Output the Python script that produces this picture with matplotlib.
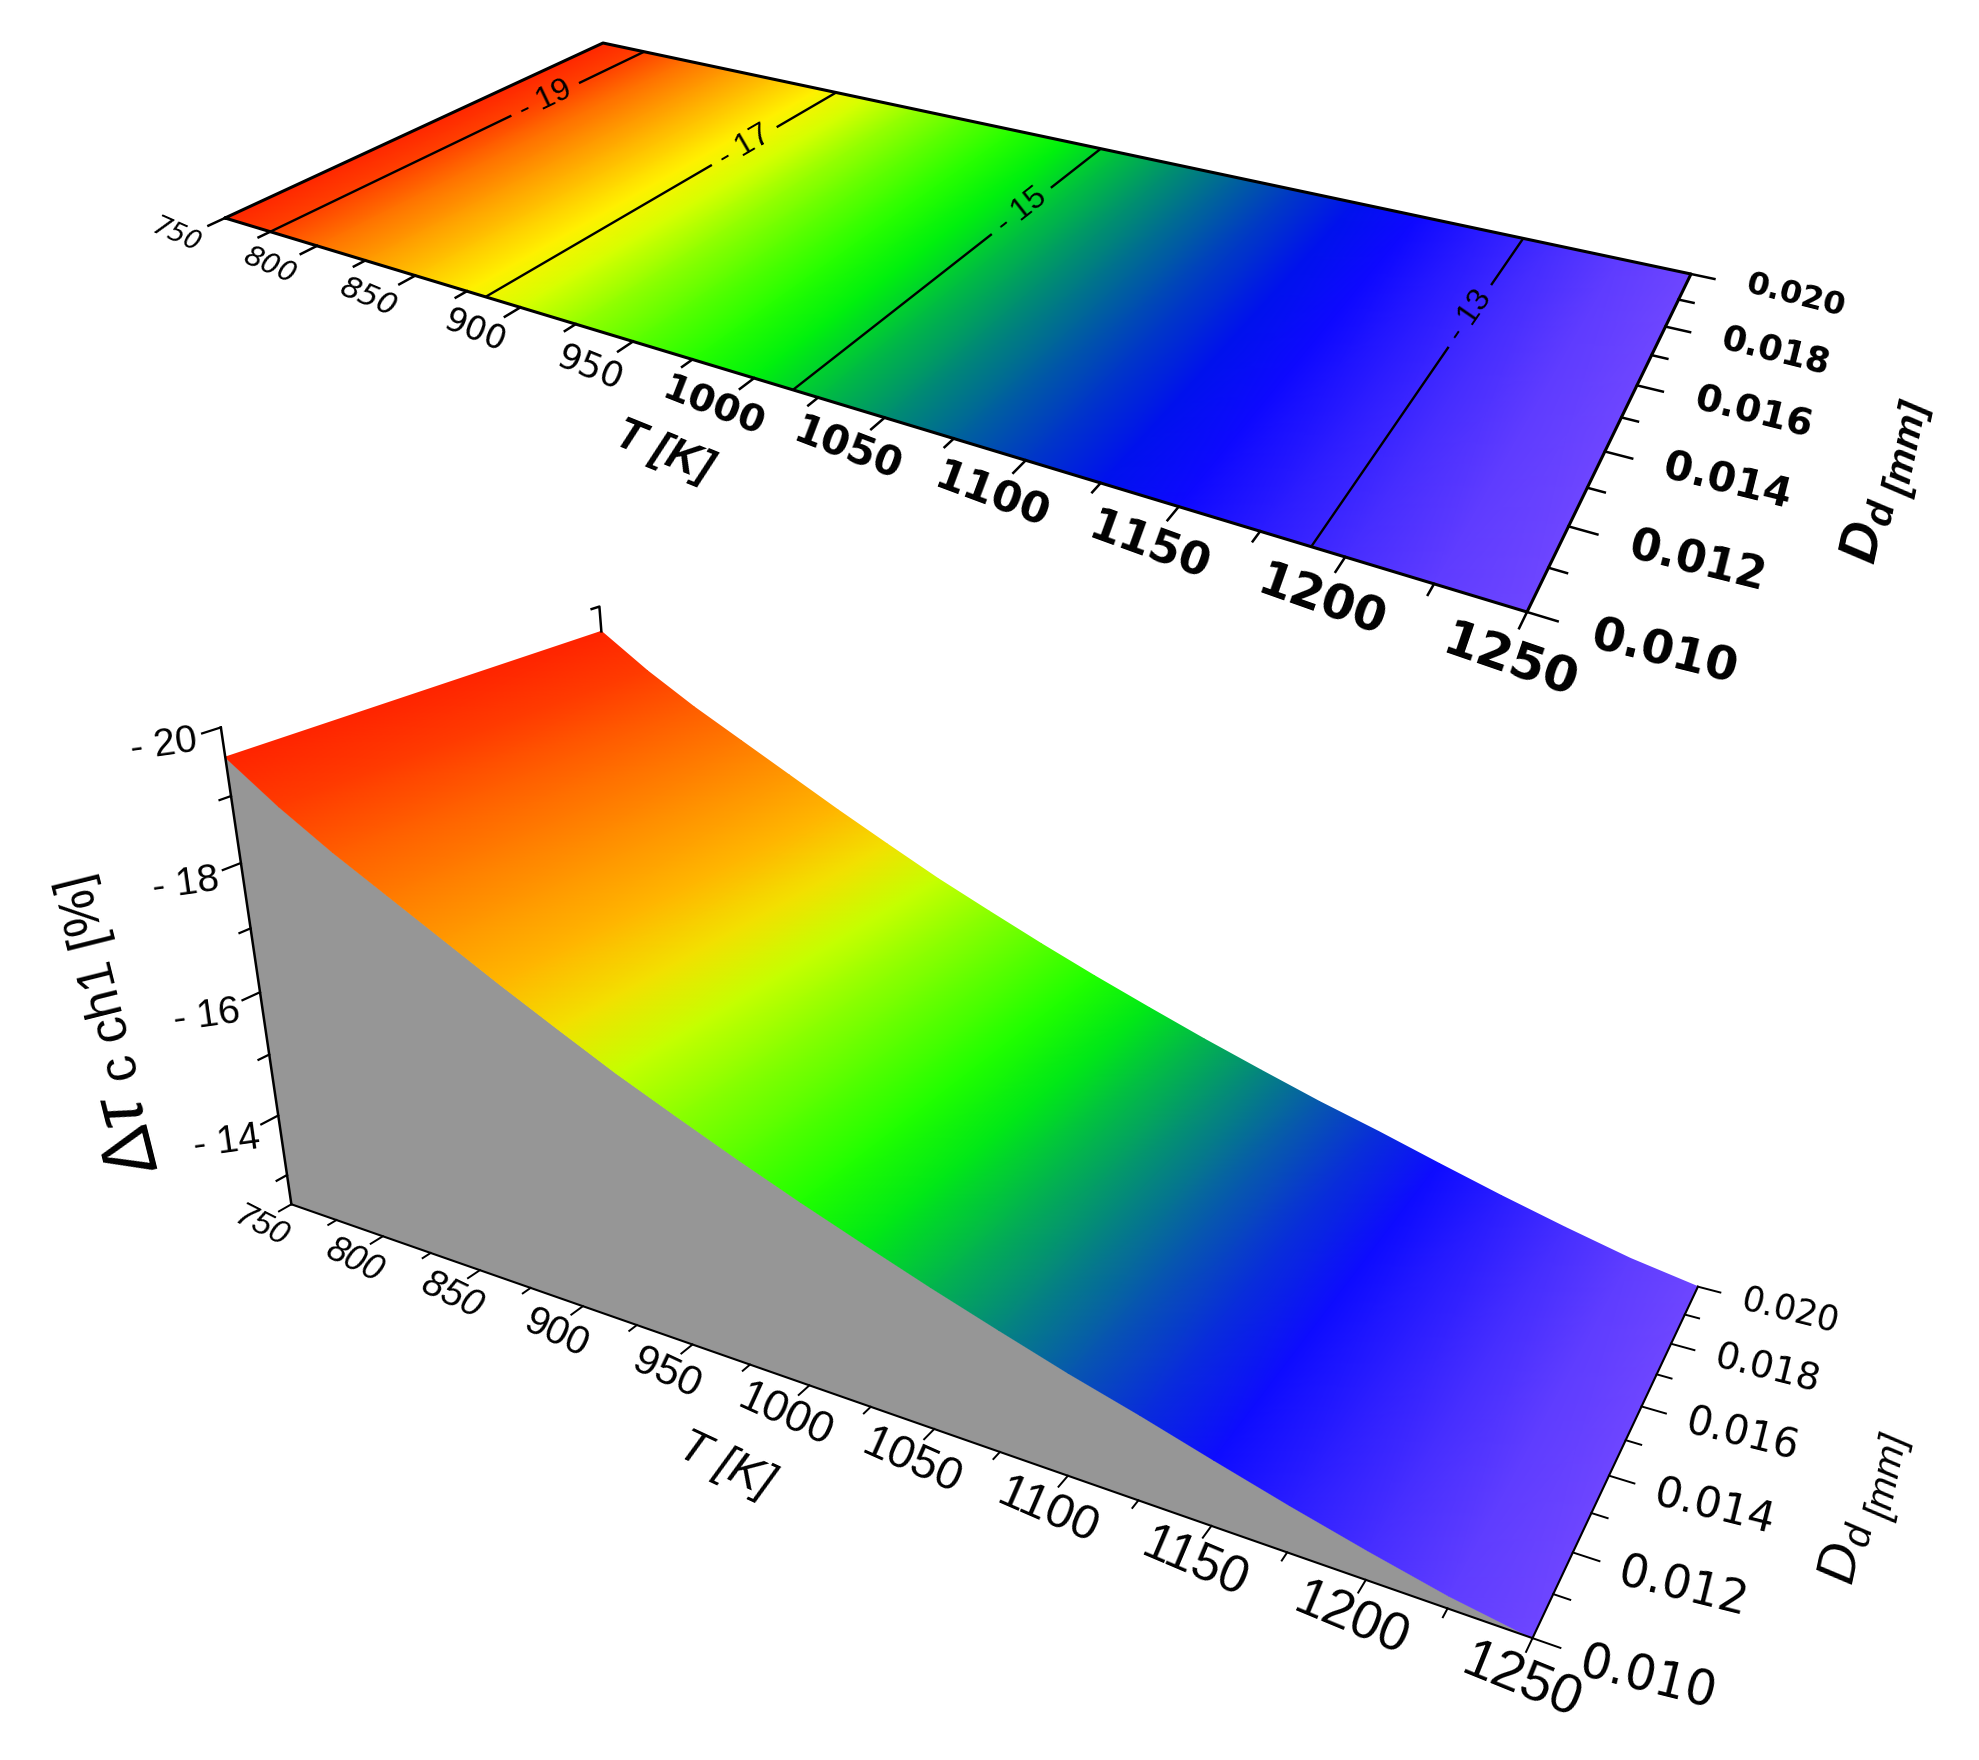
import numpy as np
import matplotlib
matplotlib.use("Agg")
import matplotlib.pyplot as plt
from matplotlib.colors import LinearSegmentedColormap, Normalize

plt.rcParams['font.family'] = ['Liberation Sans', 'DejaVu Sans']
plt.rcParams['mathtext.fontset'] = 'custom'
plt.rcParams['mathtext.rm'] = 'Liberation Sans'
plt.rcParams['mathtext.it'] = 'Liberation Sans:italic'
plt.rcParams['mathtext.bf'] = 'Liberation Sans:bold'
plt.rcParams['mathtext.bfit'] = 'Liberation Sans:italic:bold'

# data
T_grid = [750, 775, 800, 825, 850, 875, 900, 925, 950, 975, 1000,
          1025, 1050, 1075, 1100, 1125, 1150, 1175, 1200, 1225, 1250]
dtau = [-19.57, -19.0, -18.5, -18.05, -17.6, -17.15, -16.72, -16.3, -15.92, -15.55, -15.2,
        -14.87, -14.55, -14.25, -13.96, -13.7, -13.42, -13.15, -12.9, -12.67, -12.5]
D_grid = [0.010, 0.020]
T_ticks = [750, 775, 800, 825, 850, 875, 900, 925, 950, 975, 1000,
           1025, 1050, 1075, 1100, 1125, 1150, 1175, 1200, 1225, 1250]
T_labels = [750, 800, 850, 900, 950, 1000, 1050, 1100, 1150, 1200, 1250]
D_ticks = [0.010, 0.011, 0.012, 0.013, 0.014, 0.015, 0.016, 0.017, 0.018, 0.019, 0.020]
D_labels = [0.010, 0.012, 0.014, 0.016, 0.018, 0.020]
z_ticks = [-20, -19, -18, -17, -16, -15, -14, -13]
z_labels = [-20, -18, -16, -14]
levels = [-19, -17, -15, -13]

cmap_z = [-20, -19, -17, -15.3, -13.55, -12.5]
cmap_rgb = ['#ff1400', '#ff4100', '#ffff00', '#00ff00', '#0000ff', '#6e46ff']
cmap_z_lower = [-20, -19, -16.95, -16.5, -15.0, -13.45, -12.5]
cmap_rgb_lower = ['#ff1400', '#ff3c00', '#ffc400', '#e6ff00', '#00ff00', '#0a0aff', '#6e46ff']

Z_BASE, Z_TOP = -12.5, -20.0
norm = Normalize(Z_TOP, Z_BASE)
cmap = LinearSegmentedColormap.from_list(
    'upper', [(norm(z), c) for z, c in zip(cmap_z, cmap_rgb)])
cmap_lower = LinearSegmentedColormap.from_list(
    'lower', [(norm(z), c) for z, c in zip(cmap_z_lower, cmap_rgb_lower)])


def fit_view(world, image, weights=None):
    # weighted least squares projective camera, world points -> picture pixels
    world = np.asarray(world, float)
    n = world.shape[1]
    if weights is None:
        weights = np.ones(len(world))
    rows, rhs = [], []
    for w, (x, y), k in zip(world, image, weights):
        h = np.append(w, 1)
        rows.append(k * np.r_[h, np.zeros(n + 1), -x * w])
        rhs.append(k * x)
        rows.append(k * np.r_[np.zeros(n + 1), h, -y * w])
        rhs.append(k * y)
    p = np.linalg.lstsq(np.array(rows), np.array(rhs), rcond=None)[0]
    return np.append(p, 1).reshape(3, n + 1)


def project(cam, *coords):
    arrs = np.broadcast_arrays(*[np.asarray(c, float) for c in coords])
    h = np.stack(list(arrs) + [np.ones_like(arrs[0])], axis=-1)
    q = h @ cam.T
    return q[..., 0] / q[..., 2], q[..., 1] / q[..., 2]


def ss(T):
    return (np.asarray(T, float) - 750) / 500


def tt(D):
    return (np.asarray(D, float) - 0.010) / 0.010


def uu(z):
    return (Z_BASE - np.asarray(z, float)) / (Z_BASE - Z_TOP)


top_cam = fit_view([(0, 0), (1, 0), (1, 1), (0, 1)],
                   [(225, 218), (1527, 612), (1691, 274), (603, 43)])
# camera of the lower panel, fitted to axis ticks seen in the picture
bot_world = [(0, 0, 0), (0.1, 0, 0), (0.2, 0, 0), (0.3, 0, 0), (0.4, 0, 0), (0.5, 0, 0),
             (0.6, 0, 0), (0.7, 0, 0), (0.8, 0, 0), (0.9, 0, 0), (1, 0, 0),
             (1, 0.2, 0), (1, 0.4, 0), (1, 0.6, 0), (1, 0.8, 0), (1, 1, 0),
             (0, 0, uu(-14)), (0, 0, uu(-16)), (0, 0, uu(-18)), (0, 0, 1),
             (0, 1, 1), (0, 1, 0.943)]
bot_image = [(294, 1201), (379, 1238), (478, 1272), (583, 1307), (692, 1345), (810, 1387),
             (935, 1430), (1067, 1477), (1211, 1527), (1364, 1582), (1530, 1632),
             (1576, 1550), (1612, 1475), (1643, 1407), (1674, 1345), (1693, 1287),
             (281, 1113), (261, 992), (239, 863), (221, 729),
             (598, 606), (603, 631)]
bot_cam = fit_view(bot_world, bot_image)

fig = plt.figure(figsize=(19.79, 17.60), dpi=100)
ax = fig.add_axes([0, 0, 1, 1])
ax.set_xlim(0, 1979)
ax.set_ylim(1760, 0)
ax.axis('off')

TT, DD = np.meshgrid(T_grid, D_grid)
ZZ = np.array([dtau, dtau])

# ---- upper panel: flat map with contours
X, Y = project(top_cam, ss(TT), tt(DD))
ax.pcolormesh(X, Y, ZZ, shading='gouraud', cmap=cmap, norm=norm, zorder=1)
cs = ax.contour(X, Y, ZZ, levels=levels, colors='k', linewidths=1.7, linestyles='solid', zorder=3)
level_T = np.interp(levels, dtau, T_grid)
lab_x, lab_y = project(top_cam, ss(level_T), 0.69)
ax.clabel(cs, fmt=lambda v: '- %d' % abs(v), fontsize=23, inline=True, inline_spacing=10,
          manual=list(zip(lab_x, lab_y)))

ex, ey = project(top_cam, [0, 1, 1, 0, 0], [0, 0, 1, 1, 0])
ax.plot(ex, ey, color='k', lw=2.2, zorder=4, solid_capstyle='round')

for T in T_ticks:
    ln = 0.035 if T in T_labels else 0.025
    x, y = project(top_cam, [ss(T)] * 2, [0, -ln])
    ax.plot(x, y, color='k', lw=1.8, zorder=4)
for D in D_ticks:
    ln = 0.016 if D in D_labels else 0.01
    x, y = project(top_cam, [1, 1 + ln], [tt(D)] * 2)
    ax.plot(x, y, color='k', lw=1.8, zorder=4)
for i, T in enumerate(T_labels):
    x, y = project(top_cam, ss(T), -0.125)
    ax.text(x + 12, y - 10, str(T), family='DejaVu Sans', fontsize=19 + 1.7 * i, rotation=-24 + 0.5 * i,
            ha='center', va='center', weight='bold' if T >= 1000 else 'normal',
            style='italic' if T < 900 else 'normal', rotation_mode='anchor')
for i, D in enumerate(D_labels):
    x, y = project(top_cam, 1.07, tt(D))
    ax.text(x, y, '%.3f' % D, family='DejaVu Sans', fontsize=34 - 2.2 * i, rotation=-14, ha='center',
            va='center', weight='bold', rotation_mode='anchor')
ax.text(664, 452, 'T [K]', fontsize=32, style='italic', weight='bold', rotation=-22,
        ha='center', va='center', rotation_mode='anchor')
ax.text(1868, 530, r'$\mathbfit{D_d}$', fontsize=40, rotation=78,
        ha='center', va='center', rotation_mode='anchor')
ax.text(1908, 450, '[mm]', fontsize=28, style='italic', weight='bold', rotation=78,
        ha='center', va='center', rotation_mode='anchor')

# ---- lower panel: surface over the base plane
Xs, Ys = project(bot_cam, ss(TT), tt(DD), uu(ZZ))
fx, fy = project(bot_cam, ss(T_grid), 0, uu(dtau))
bx, by = project(bot_cam, ss(T_grid), 0, 0)
ax.fill(np.r_[fx, bx[::-1]], np.r_[fy, by[::-1]], color='#969696', lw=0, zorder=1)
ax.pcolormesh(Xs, Ys, ZZ, shading='gouraud', cmap=cmap_lower, norm=norm, zorder=2)

ax.plot(bx, by, color='k', lw=1.5, zorder=4)
x, y = project(bot_cam, [1, 1], [0, 1], [0, 0])
ax.plot(x, y, color='k', lw=1.5, zorder=4)
x, y = project(bot_cam, [0, 0], [0, 0], [0, 1])
ax.plot(x, y, color='k', lw=1.8, zorder=4)
x, y = project(bot_cam, [0, 0, 0], [1, 1, 0.975], uu([dtau[0], Z_TOP, Z_TOP]))
ax.plot(x, y, color='k', lw=1.8, zorder=4)

for T in T_ticks:
    ln = 0.03 if T in T_labels else 0.02
    x, y = project(bot_cam, [ss(T)] * 2, [0, -ln], [0, 0])
    ax.plot(x, y, color='k', lw=1.4, zorder=4)
for D in D_ticks:
    ln = 0.016 if D in D_labels else 0.01
    x, y = project(bot_cam, [1, 1 + ln], [tt(D)] * 2, [0, 0])
    ax.plot(x, y, color='k', lw=1.4, zorder=4)
for z in z_ticks:
    ln = 0.04 if z in z_labels else 0.025
    x, y = project(bot_cam, [0, 0], [0, -ln], [uu(z)] * 2)
    ax.plot(x, y, color='k', lw=1.6, zorder=4)
for i, T in enumerate(T_labels):
    x, y = project(bot_cam, ss(T), -0.095, 0)
    ax.text(x + 10, y, str(T), fontsize=24 + 1.6 * i, rotation=-27 + 0.5 * i, ha='center', va='center',
            style='italic' if T < 900 else 'normal', rotation_mode='anchor')
for i, D in enumerate(D_labels):
    x, y = project(bot_cam, 1.065, tt(D), 0)
    ax.text(x, y, '%.3f' % D, family='DejaVu Sans', fontsize=35 - 2 * i, rotation=-14, ha='center',
            va='center', rotation_mode='anchor')
for z in z_labels:
    x, y = project(bot_cam, 0, -0.12, uu(z))
    ax.text(x, y, '- %d' % abs(z), fontsize=28, rotation=8, ha='center', va='center',
            rotation_mode='anchor')
ax.text(725, 1465, 'T [K]', fontsize=34, style='italic', rotation=-25,
        ha='center', va='center', rotation_mode='anchor')
ax.text(1846, 1552, r'$D_{d}$', fontsize=40, rotation=78,
        ha='center', va='center', rotation_mode='anchor')
ax.text(1889, 1477, '[mm]', fontsize=28, style='italic', rotation=78,
        ha='center', va='center', rotation_mode='anchor')
ax.text(129, 1135, r'$\Delta\tau$', fontsize=54, rotation=104,
        ha='center', va='center', rotation_mode='anchor')
ax.text(101, 978, 'c ch1 [%]', fontsize=37, rotation=104,
        ha='center', va='center', rotation_mode='anchor')

fig.savefig('out.png', dpi=100, facecolor='white')
